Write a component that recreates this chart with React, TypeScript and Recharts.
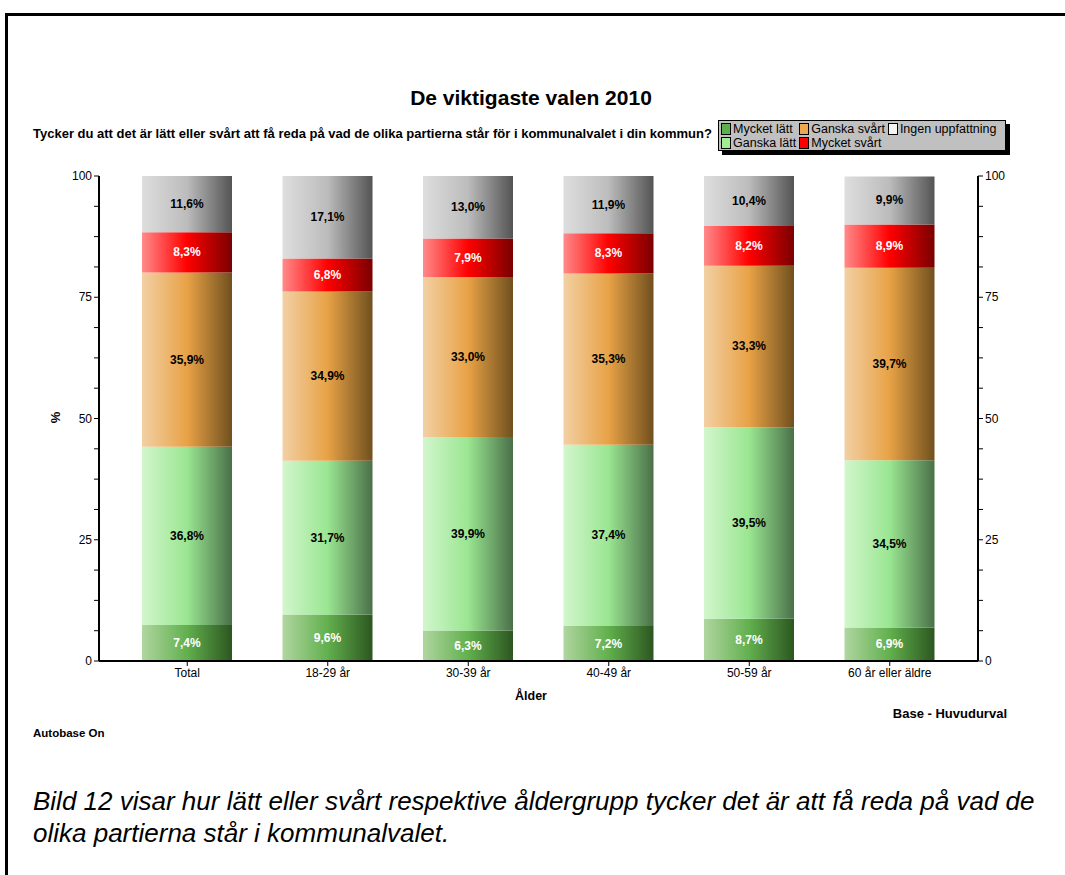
import React from "react";
import {
  BarChart,
  Bar,
  XAxis,
  YAxis,
  CartesianGrid,
  LabelList,
} from "recharts";

const categories = ["Total", "18-29 år", "30-39 år", "40-49 år", "50-59 år", "60 år eller äldre"];

const mycketLatt = [7.4, 9.6, 6.3, 7.2, 8.7, 6.9];
const ganskaLatt = [36.8, 31.7, 39.9, 37.4, 39.5, 34.5];
const ganskaSvart = [35.9, 34.9, 33.0, 35.3, 33.3, 39.7];
const mycketSvart = [8.3, 6.8, 7.9, 8.3, 8.2, 8.9];
const ingenUppfattning = [11.6, 17.1, 13.0, 11.9, 10.4, 9.9];

const yTicks = [0, 6.25, 12.5, 18.75, 25, 31.25, 37.5, 43.75, 50, 56.25, 62.5, 68.75, 75, 81.25, 87.5, 93.75, 100];

const series = [
  { key: "mycketLatt", name: "Mycket lätt", values: mycketLatt, stops: ["#b0d6a0", "#62b04e", "#2c5620"], swatch: "#5cb04a", label: "#fff" },
  { key: "ganskaLatt", name: "Ganska lätt", values: ganskaLatt, stops: ["#d2f6cc", "#9ae692", "#4a7048"], swatch: "#a0f090", label: "#000" },
  { key: "ganskaSvart", name: "Ganska svårt", values: ganskaSvart, stops: ["#f2d0a4", "#e8a246", "#70501e"], swatch: "#f0a850", label: "#000" },
  { key: "mycketSvart", name: "Mycket svårt", values: mycketSvart, stops: ["#ff8a8a", "#ff0000", "#7a0000"], swatch: "#ff0000", label: "#fff" },
  { key: "ingen", name: "Ingen uppfattning", values: ingenUppfattning, stops: ["#dedede", "#bcbcbc", "#545454"], swatch: "#f4f4f4", label: "#000" },
];

const data = categories.map((c, i) => {
  const row: any = { name: c };
  series.forEach((s) => (row[s.key] = s.values[i]));
  return row;
});

const FONT = "Arial, 'Liberation Sans', Helvetica, sans-serif";

const YTick = (props: any) => {
  const { x, y, payload, orientation } = props;
  const v = payload.value;
  const left = orientation !== "right";
  const axisX = left ? x + 8 : x - 8;
  const dir = left ? -1 : 1;
  return (
    <g>
      <line x1={axisX} x2={axisX + dir * 5} y1={y} y2={y} stroke="#000" strokeWidth={1} />
      {v % 25 === 0 && (
        <text
          x={axisX + dir * 7}
          y={y}
          dy={4}
          textAnchor={left ? "end" : "start"}
          fontSize={12}
          fontFamily={FONT}
          fill="#000"
        >
          {v}
        </text>
      )}
    </g>
  );
};

const makeLabel = (color: string) => (props: any) => {
  const { x, y, width, height, value } = props;
  return (
    <text
      x={x + width / 2}
      y={y + height / 2}
      dy={4}
      textAnchor="middle"
      fontSize={12}
      fontWeight="bold"
      fontFamily={FONT}
      fill={color}
    >
      {String(Number(value).toFixed(1)).replace(".", ",")}%
    </text>
  );
};

const legendCols = [
  [series[0], series[1]],
  [series[2], series[3]],
  [series[4]],
];

const App = () => {
  return (
    <div style={{ position: "absolute", left: 0, top: 0, width: 1065, height: 875, background: "#fff", fontFamily: FONT, overflow: "hidden" }}>
      <div style={{ position: "absolute", left: 5, top: 13, width: 1070, height: 880, borderTop: "3px solid #000", borderLeft: "3px solid #000" }} />

      <div style={{ position: "absolute", left: 0, width: 1062, top: 86, textAlign: "center", fontSize: 21, fontWeight: "bold" }}>
        De viktigaste valen 2010
      </div>
      <div style={{ position: "absolute", left: 33, top: 126, fontSize: 13, fontWeight: "bold", whiteSpace: "nowrap" }}>
        Tycker du att det är lätt eller svårt att få reda på vad de olika partierna står för i kommunalvalet i din kommun?
      </div>

      <div
        style={{
          position: "absolute",
          left: 718,
          top: 120,
          width: 288,
          height: 31,
          background: "#c0c0c0",
          border: "1px solid #000",
          boxShadow: "4px 4px 0 #000",
          display: "flex",
          paddingLeft: 2,
          paddingTop: 1,
          boxSizing: "border-box",
        }}
      >
        {legendCols.map((col, ci) => (
          <div key={ci} style={{ marginRight: 3 }}>
            {col.map((s) => (
              <div key={s.key} style={{ display: "flex", alignItems: "center", height: 14, fontSize: 12.5, whiteSpace: "nowrap" }}>
                <span style={{ display: "inline-block", width: 8, height: 10, background: s.swatch, border: "1px solid #000", marginRight: 2 }} />
                {s.name}
              </div>
            ))}
          </div>
        ))}
      </div>

      <div style={{ position: "absolute", left: 0, top: 0 }}>
        <BarChart
          width={1065}
          height={700}
          data={data}
          margin={{ top: 176, right: 47, left: 59, bottom: 9 }}
          barSize={90}
        >
          <defs>
            {series.map((s) => (
              <linearGradient key={s.key} id={`g-${s.key}`} x1="0" y1="0" x2="1" y2="0">
                <stop offset="0%" stopColor={s.stops[0]} />
                <stop offset="50%" stopColor={s.stops[1]} />
                <stop offset="100%" stopColor={s.stops[2]} />
              </linearGradient>
            ))}
          </defs>
          <CartesianGrid
            vertical={false}
            horizontalValues={[25, 50, 75]}
            stroke="#888"
            strokeDasharray="2 2"
          />
          <CartesianGrid
            vertical={false}
            horizontalValues={[100]}
            stroke="#999"
          />
          <XAxis
            dataKey="name"
            height={30}
            padding={{ left: 18, right: 18 }}
            axisLine={{ stroke: "#000", strokeWidth: 2 }}
            tickLine={{ stroke: "#000" }}
            tickSize={5}
            tick={{ fontSize: 12, fill: "#000", fontFamily: FONT }}
            interval={0}
          />
          <YAxis
            yAxisId="left"
            width={40}
            domain={[0, 100]}
            ticks={yTicks}
            allowDataOverflow
            interval={0}
            axisLine={{ stroke: "#000", strokeWidth: 2 }}
            tickLine={false}
            tick={<YTick orientation="left" />}
          />
          <YAxis
            yAxisId="right"
            orientation="right"
            width={40}
            domain={[0, 100]}
            ticks={yTicks}
            allowDataOverflow
            interval={0}
            axisLine={{ stroke: "#000", strokeWidth: 2 }}
            tickLine={false}
            tick={<YTick orientation="right" />}
          />
          {series.map((s) => (
            <Bar
              key={s.key}
              yAxisId="left"
              dataKey={s.key}
              name={s.name}
              stackId="a"
              fill={`url(#g-${s.key})`}
              isAnimationActive={false}
            >
              <LabelList dataKey={s.key} content={makeLabel(s.label)} />
            </Bar>
          ))}
        </BarChart>
      </div>

      <div style={{ position: "absolute", left: 50, top: 410, transform: "rotate(-90deg)", fontSize: 13, fontWeight: "bold" }}>%</div>
      <div style={{ position: "absolute", left: 0, width: 1062, top: 689, textAlign: "center", fontSize: 12.5, fontWeight: "bold" }}>Ålder</div>
      <div style={{ position: "absolute", right: 58, top: 706, fontSize: 13, fontWeight: "bold" }}>Base - Huvudurval</div>
      <div style={{ position: "absolute", left: 33, top: 727, fontSize: 11.5, fontWeight: "bold" }}>Autobase On</div>

      <div style={{ position: "absolute", left: 33, top: 785, width: 1032, fontSize: 26, fontStyle: "italic", lineHeight: "32px", whiteSpace: "nowrap" }}>
        Bild 12 visar hur lätt eller svårt respektive åldergrupp tycker det är att få reda på vad de
        <br />
        olika partierna står i kommunalvalet.
      </div>
    </div>
  );
};

export default App;
